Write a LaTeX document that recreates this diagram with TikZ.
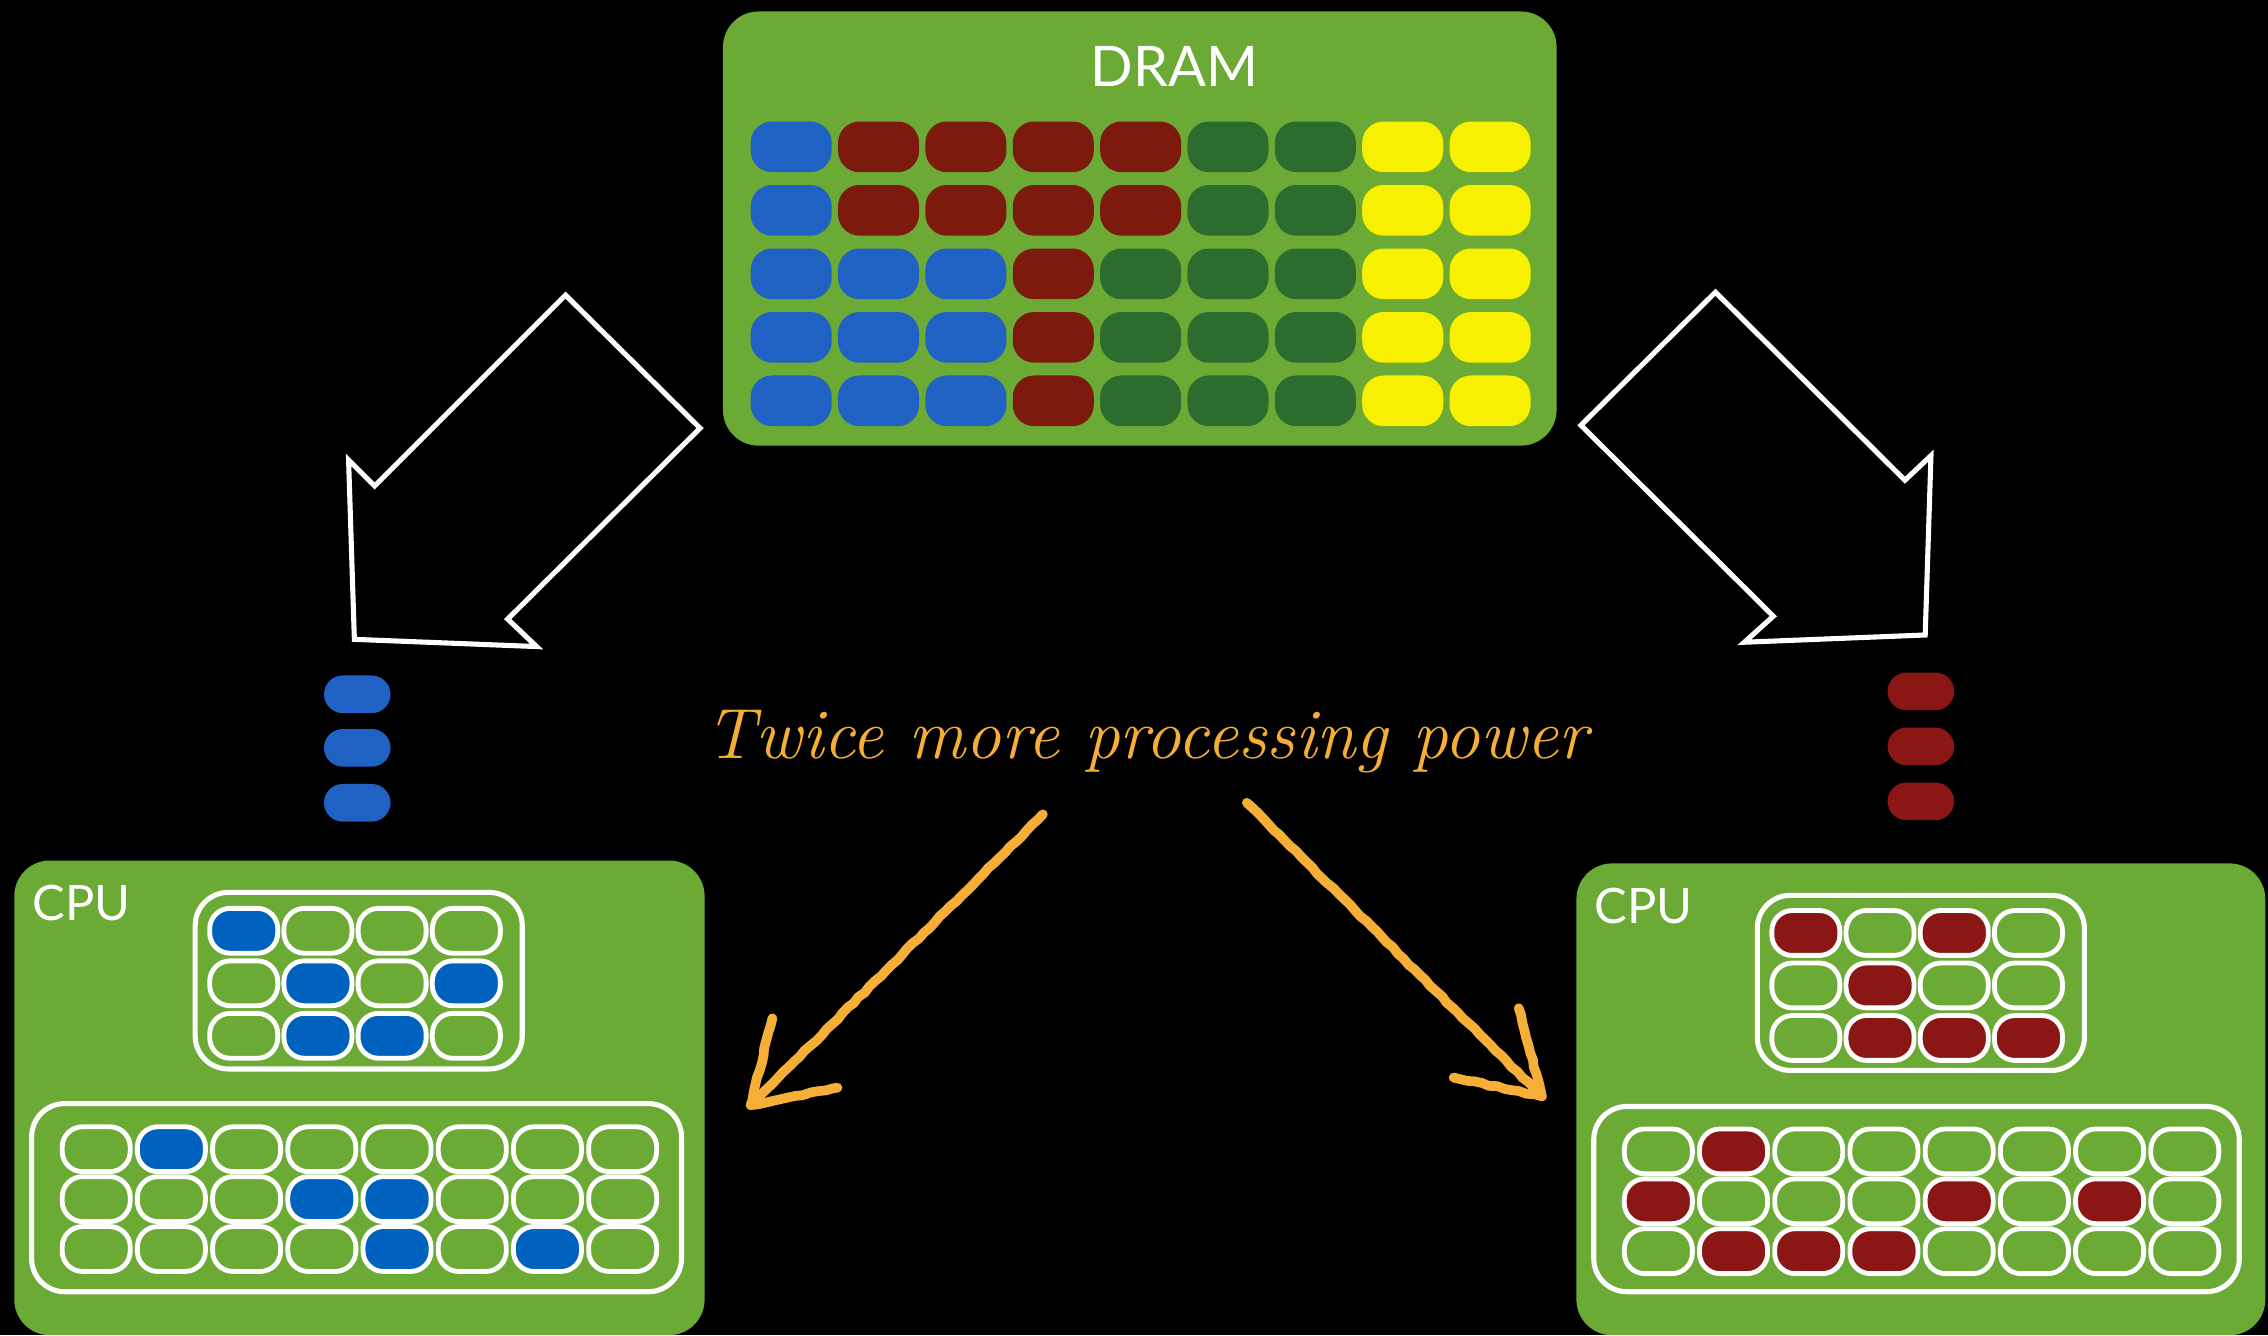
\documentclass[tikz,border=0pt]{standalone}
\usepackage{fontspec}
\newfontfamily\labelfont{Lato}
\usetikzlibrary{decorations.pathmorphing}

\definecolor{boxgreen}{HTML}{6BAA34}
\definecolor{dramB}{HTML}{1F62C4}
\definecolor{dramR}{HTML}{7C1A0D}
\definecolor{dramG}{HTML}{2C6D2F}
\definecolor{dramY}{HTML}{F7F000}
\definecolor{cpuE}{HTML}{6BAA34}
\definecolor{cpuB}{HTML}{0062BF}
\definecolor{cpuR}{HTML}{8A1714}
\definecolor{chalkorange}{HTML}{F6AF36}

\tikzset{
  chipbox/.style={fill=boxgreen, rounded corners=7pt, inner sep=0pt},
  bankbox/.style={draw=white, line width=1pt, rounded corners=6.5pt, inner sep=0pt},
  dramcell/.style={rectangle, rounded corners=4.2pt, minimum width=0.56cm, minimum height=0.35cm, inner sep=0pt},
  cpucell/.style={rectangle, draw=white, line width=0.95pt, rounded corners=4pt, minimum width=0.47cm, minimum height=0.31cm, inner sep=0pt},
  pill/.style={rectangle, rounded corners=3.7pt, minimum width=0.46cm, minimum height=0.26cm, inner sep=0pt},
  blockarrow/.style={draw=white, line width=1pt, line join=miter, fill=black},
  chalk/.style={draw=chalkorange, line width=1.9pt, line cap=round, line join=round,
    decorate, decoration={random steps, segment length=1.5pt, amplitude=0.15pt}},
  chiplabel/.style={text=white, font=\labelfont\fontsize{9.6}{11}\selectfont, inner sep=0pt},
}

\begin{document}
\begin{tikzpicture}[x=0.01cm, y=-0.01cm]
\pgfmathsetseed{7}
% canvas
\fill[black] (0,0) rectangle (1568,923);
\useasboundingbox (0,0) rectangle (1568,923);

% ---------- DRAM ----------
\node[chipbox, minimum width=5.76cm, minimum height=3.00cm] (dram) at (788,158) {};
\node[chiplabel, font=\labelfont\fontsize{11}{13}\selectfont] (dramlabel) at (812,46) {DRAM};
\foreach \r/\list in {0/{B,R,R,R,R,G,G,Y,Y},
                      1/{B,R,R,R,R,G,G,Y,Y},
                      2/{B,B,B,R,G,G,G,Y,Y},
                      3/{B,B,B,R,G,G,G,Y,Y},
                      4/{B,B,B,R,G,G,G,Y,Y}}{
  \foreach \c [count=\i from 0] in \list {
    \node[dramcell, fill=dram\c] (d-\r-\i) at ({547+60.4*\i},{101.5+43.9*\r}) {};
  }
}

% ---------- transfer arrows ----------
\draw[blockarrow] (391,204) -- (484,296) -- (351,428) -- (371,447)
  -- (245,442) -- (241,318) -- (259,336) -- cycle;
\draw[blockarrow] (1186,202) -- (1093,294) -- (1226,426) -- (1206,444)
  -- (1331,439) -- (1335,315) -- (1317,332) -- cycle;

% data in flight
\foreach \y [count=\k] in {480,517,555} {
  \node[pill, fill=dramB] (lp-\k) at (247,\y) {};
}
\foreach \y [count=\k] in {478,516,554} {
  \node[pill, fill=cpuR] (rp-\k) at (1328,\y) {};
}

% ---------- left CPU ----------
\node[chipbox, minimum width=4.77cm, minimum height=3.28cm] (cpuL) at (248.5,759) {};
\node[chiplabel, anchor=north west] (cpuLlabel) at (22,611) {CPU};
\node[bankbox, minimum width=2.26cm, minimum height=1.22cm] (bankLa) at (248,678) {};
\node[bankbox, minimum width=4.49cm, minimum height=1.30cm] (bankLb) at (246.5,828) {};
\foreach \r/\list in {0/{B,E,E,E}, 1/{E,B,E,B}, 2/{E,B,B,E}}{
  \foreach \c [count=\i from 0] in \list {
    \node[cpucell, fill=cpu\c] (la-\r-\i) at ({168.5+51.3*\i},{643.5+36.3*\r}) {};
  }
}
\foreach \r/\list in {0/{E,B,E,E,E,E,E,E}, 1/{E,E,E,B,B,E,E,E}, 2/{E,E,E,E,B,E,B,E}}{
  \foreach \c [count=\i from 0] in \list {
    \node[cpucell, fill=cpu\c] (lb-\r-\i) at ({66.5+52*\i},{794.5+34.5*\r}) {};
  }
}

% ---------- right CPU ----------
\node[chipbox, minimum width=4.76cm, minimum height=3.26cm] (cpuR) at (1328,760) {};
\node[chiplabel, anchor=north west] (cpuRlabel) at (1102,613) {CPU};
\node[bankbox, minimum width=2.26cm, minimum height=1.21cm] (bankRa) at (1328,679.5) {};
\node[bankbox, minimum width=4.46cm, minimum height=1.28cm] (bankRb) at (1325,829) {};
\foreach \r/\list in {0/{R,E,R,E}, 1/{E,R,E,E}, 2/{E,R,R,R}}{
  \foreach \c [count=\i from 0] in \list {
    \node[cpucell, fill=cpu\c] (ra-\r-\i) at ({1248.5+51.3*\i},{645+36.3*\r}) {};
  }
}
\foreach \r/\list in {0/{E,R,E,E,E,E,E,E}, 1/{R,E,E,E,R,E,R,E}, 2/{E,R,R,R,E,E,E,E}}{
  \foreach \c [count=\i from 0] in \list {
    \node[cpucell, fill=cpu\c] (rb-\r-\i) at ({1146.5+52*\i},{796+34.5*\r}) {};
  }
}

% ---------- annotation ----------
\node[text=chalkorange, font=\itshape\fontsize{14}{17}\selectfont, inner sep=0pt] (note) at (793,513)
  {Twice more processing power};
\coordinate (la-start) at (721,563);
\coordinate (la-tip) at (519,764);
\coordinate (la-arm1) at (534,704);
\coordinate (la-arm2) at (579,752);
\coordinate (ra-start) at (862,555);
\coordinate (ra-tip) at (1066,758);
\coordinate (ra-arm1) at (1050,697);
\coordinate (ra-arm2) at (1005,745);
\draw[chalk] (la-start) -- (la-tip);
\draw[chalk] (la-arm1) -- (la-tip) -- (la-arm2);
\draw[chalk] (ra-start) -- (ra-tip);
\draw[chalk] (ra-arm1) -- (ra-tip) -- (ra-arm2);
\end{tikzpicture}
\end{document}
